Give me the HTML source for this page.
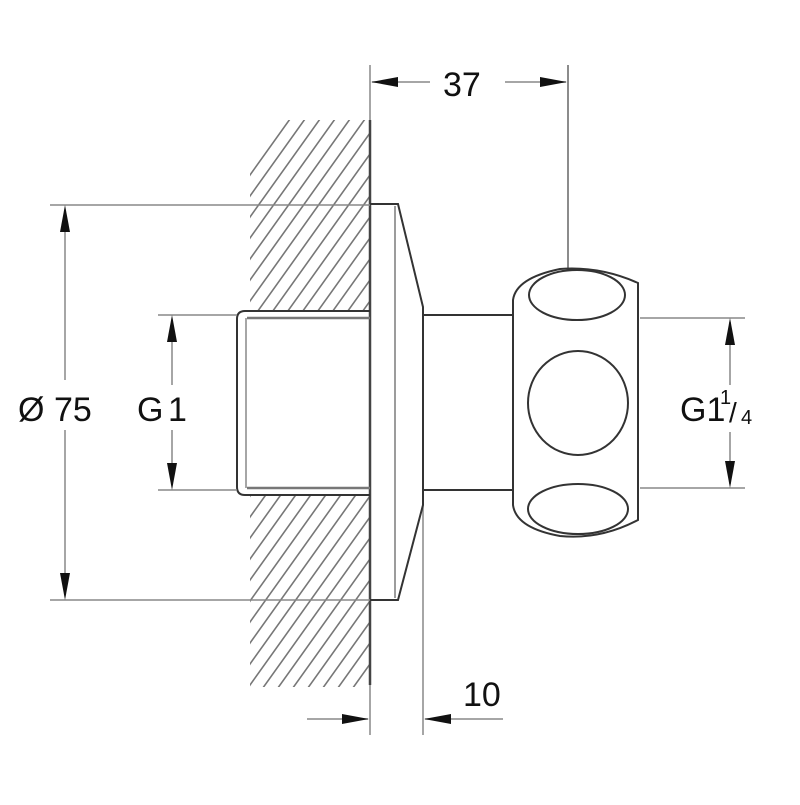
<!DOCTYPE html>
<html><head><style>html,body{margin:0;padding:0;background:#fff}</style></head>
<body>
<svg width="800" height="800" viewBox="0 0 800 800" xmlns="http://www.w3.org/2000/svg" font-family="Liberation Sans, sans-serif">
<defs>
<clipPath id="h1"><rect x="250" y="120" width="120" height="190"/></clipPath>
<clipPath id="h2"><rect x="250" y="495" width="120" height="192"/></clipPath>
<g id="hat" stroke="#777" stroke-width="1.6">
<line x1="150" y1="420" x2="400" y2="70"/><line x1="165" y1="420" x2="415" y2="70"/><line x1="180" y1="420" x2="430" y2="70"/><line x1="195" y1="420" x2="445" y2="70"/><line x1="210" y1="420" x2="460" y2="70"/><line x1="225" y1="420" x2="475" y2="70"/><line x1="240" y1="420" x2="490" y2="70"/><line x1="255" y1="420" x2="505" y2="70"/><line x1="270" y1="420" x2="520" y2="70"/><line x1="285" y1="420" x2="535" y2="70"/><line x1="300" y1="420" x2="550" y2="70"/><line x1="315" y1="420" x2="565" y2="70"/><line x1="330" y1="420" x2="580" y2="70"/><line x1="135" y1="420" x2="385" y2="70"/><line x1="120" y1="420" x2="370" y2="70"/><line x1="105" y1="420" x2="355" y2="70"/><line x1="90" y1="420" x2="340" y2="70"/><line x1="75" y1="420" x2="325" y2="70"/>
</g>
</defs>
<g clip-path="url(#h1)"><use href="#hat"/></g>
<g clip-path="url(#h2)"><use href="#hat" transform="translate(0,300)"/></g>
<g fill="none" stroke="#333" stroke-width="2">
<line x1="370" y1="65" x2="370" y2="735" stroke="#888" stroke-width="1.5"/>
<line x1="370" y1="120" x2="370" y2="685" stroke="#444" stroke-width="2.5"/>
<line x1="568" y1="65" x2="568" y2="268" stroke="#666" stroke-width="1.5"/>
<line x1="423" y1="505" x2="423" y2="735" stroke="#888" stroke-width="1.5"/>
<path d="M370 204 H398 L423 307 V505 L398 600 H370"/>
<line x1="395" y1="206" x2="395" y2="598" stroke="#666" stroke-width="1.3"/>
<path d="M370 311 H245 Q237 311 237 319 V487 Q237 495 245 495 H370"/>
<line x1="247" y1="318" x2="370" y2="318" stroke="#777" stroke-width="2.5"/>
<line x1="247" y1="488" x2="370" y2="488" stroke="#777" stroke-width="2.5"/>
<line x1="246" y1="318" x2="246" y2="488" stroke="#777" stroke-width="1.3"/>
<line x1="423" y1="315" x2="513" y2="315"/>
<line x1="423" y1="490" x2="513" y2="490"/>
<path d="M513 300 Q516 278 560 269 Q600 266 638 283 V520 Q600 540 560 536 Q516 528 513 505 Z"/>
<ellipse cx="577" cy="295" rx="48" ry="25"/>
<ellipse cx="578" cy="403" rx="50" ry="52"/>
<ellipse cx="578" cy="509" rx="50" ry="25"/>
</g>
<g stroke="#888" stroke-width="1.5">
<line x1="50" y1="205" x2="370" y2="205"/><line x1="50" y1="600" x2="370" y2="600"/>
<line x1="65" y1="210" x2="65" y2="380"/><line x1="65" y1="430" x2="65" y2="595"/>
<line x1="158" y1="315" x2="237" y2="315"/><line x1="158" y1="490" x2="237" y2="490"/>
<line x1="172" y1="320" x2="172" y2="385"/><line x1="172" y1="430" x2="172" y2="485"/>
<line x1="640" y1="318" x2="745" y2="318"/><line x1="640" y1="488" x2="745" y2="488"/>
<line x1="730" y1="322" x2="730" y2="385"/><line x1="730" y1="432" x2="730" y2="484"/>
<line x1="372" y1="82" x2="430" y2="82"/><line x1="505" y1="82" x2="566" y2="82"/>
<line x1="307" y1="719" x2="368" y2="719"/><line x1="425" y1="719" x2="503" y2="719"/>
</g>
<g fill="#111">
<path d="M65 205 L60 232 L70 232Z"/><path d="M65 600 L60 573 L70 573Z"/>
<path d="M172 315 L167 342 L177 342Z"/><path d="M172 490 L167 463 L177 463Z"/>
<path d="M730 318 L725 345 L735 345Z"/><path d="M730 488 L725 461 L735 461Z"/>
<path d="M371 82 L398 77 L398 87Z"/><path d="M567 82 L540 77 L540 87Z"/>
<path d="M369 719 L342 714 L342 724Z"/><path d="M424 719 L451 714 L451 724Z"/>
</g>
<g fill="#111" font-size="34">
<text x="443" y="96">37</text>
<text x="18" y="421">Ø</text>
<text x="54" y="421">75</text>
<text x="137" y="421">G</text>
<text x="168" y="421">1</text>
<text x="680" y="421">G1</text>
<text x="720" y="404" font-size="20">1</text>
<text x="729" y="422" font-size="28">/</text>
<text x="741" y="424" font-size="20">4</text>
<text x="463" y="706">10</text>
</g>
</svg>
</body></html>
